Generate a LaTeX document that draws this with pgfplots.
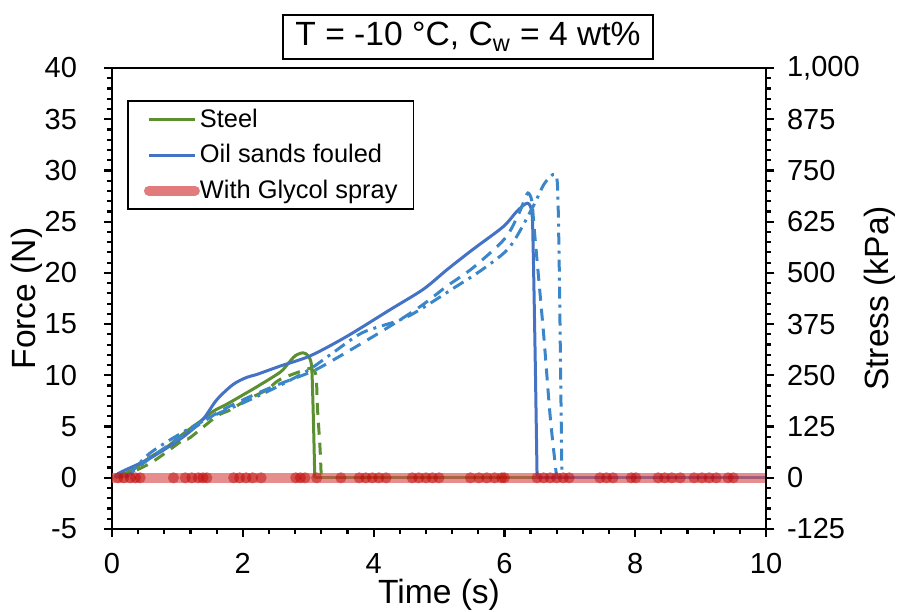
\documentclass[border=0pt]{standalone}
\usepackage{fontspec}
\setmainfont{Liberation Sans}
\usepackage{pgfplots}
\pgfplotsset{compat=1.18}

\definecolor{steelgreen}{HTML}{5B8F2F}
\definecolor{oilblue}{HTML}{4472C4}
\definecolor{oillight}{HTML}{3A86C8}
\definecolor{glycol}{HTML}{D85050}
\definecolor{glycoldot}{HTML}{C00000}

\begin{document}
\begin{tikzpicture}
\pgfplotsset{
  common/.style={
    scale only axis, width=327pt, height=230.5pt,
    xmin=0, xmax=10,
    tick align=outside,
    major tick length=4pt, minor tick length=2.5pt,
    tick style={black, line width=1.1pt},
    axis line style={line width=1.3pt},
    tick label style={font=\fontsize{14.5}{16}\selectfont},
    /pgf/number format/assume math mode=true,
  },
}
\begin{axis}[common,
    ymin=-5, ymax=40,
    xtick={0,2,...,10}, ytick={-5,0,...,40},
    minor x tick num=4, minor y tick num=4,
    xtick pos=bottom, ytick pos=left,
    yticklabel style={xshift=-10pt},
    xticklabel style={yshift=-4.5pt},
    xlabel={Time (s)}, ylabel={Force (N)},
    every axis x label/.style={at={(axis description cs:0.5,-0.143)}, anchor=center,
      font=\fontsize{16.8}{19}\selectfont},
    every axis y label/.style={at={(axis description cs:-0.13,0.5)}, rotate=90, anchor=center,
      font=\fontsize{16.8}{19}\selectfont},
    legend style={at={(rel axis cs:0.023,0.93)}, anchor=north west,
      draw=black, line width=0.9pt, inner xsep=8pt, inner ysep=1.5pt,
      font=\fontsize{12.7}{15}\selectfont, row sep=2pt,
      nodes={inner xsep=0pt, inner ysep=2.5pt}},
    legend cell align=left,
    legend image code/.code={\draw[#1] (0pt,0pt) -- (23pt,0pt);},
]
\addlegendimage{steelgreen, line width=1.5pt}
\addlegendentry{Steel}
\addlegendimage{oilblue, line width=1.5pt}
\addlegendentry{Oil sands fouled}
\addlegendimage{glycol!75!white, line width=5pt, line cap=round}
\addlegendentry{With Glycol spray}

% steel, run 1
\addplot[steelgreen, line width=1.5pt, smooth, forget plot] coordinates {
(0.05,0) (0.32,0.8) (0.58,2.0) (0.84,3.0) (1.09,4.3) (1.39,5.7) (1.55,6.5)
(1.76,7.2) (2.06,8.3) (2.22,8.9) (2.57,10.3) (2.70,11.2) (2.80,11.9)
(2.92,12.2) (3.00,11.9) (3.05,11.0) (3.07,7.9) (3.09,3.0) (3.10,0)
};
\addplot[steelgreen, line width=1.5pt, forget plot] coordinates {(3.10,0) (6.5,0)};
% steel, run 2
\addplot[steelgreen, line width=1.5pt, dash pattern=on 6pt off 4pt, smooth, forget plot] coordinates {
(0.10,0) (0.58,1.4) (1.09,3.7) (1.19,3.9) (1.60,6.0) (1.80,6.6) (2.06,7.6)
(2.37,8.6) (2.57,9.6) (2.98,10.6) (3.05,10.6) (3.12,10.0) (3.14,7.0)
(3.18,3.0) (3.20,0)
};
% oil sands fouled, run 1
\addplot[oilblue, line width=1.5pt, smooth, forget plot] coordinates {
(0.05,0) (0.12,0.5) (0.58,1.9) (1.09,4.0) (1.39,5.7) (1.60,7.6) (1.85,9.1)
(2.06,9.8) (2.22,10.1) (2.57,10.9) (3.03,11.9) (3.59,13.8) (4.25,16.4)
(4.76,18.4) (5.12,20.3) (5.52,22.3) (5.98,24.5) (6.19,26.0) (6.35,26.8)
(6.42,25.9) (6.44,22.3) (6.47,12.0) (6.50,0)
};
\addplot[oilblue, line width=1.5pt, forget plot] coordinates {(6.5,0) (10,0)};
% oil sands fouled, run 2
\addplot[oillight, line width=1.5pt, dash pattern=on 6pt off 4pt, smooth, forget plot] coordinates {
(0.20,0) (0.60,2.0) (1.10,4.2) (1.60,6.3) (2.00,7.6) (2.50,9.0) (3.03,10.3)
(3.33,11.3) (4.10,14.2) (4.71,16.7) (5.12,18.7) (5.52,20.5) (6.00,23.3)
(6.20,25.5) (6.30,27.0) (6.36,27.8) (6.42,27.0) (6.46,24.0) (6.60,14.0)
(6.70,6.0) (6.80,0)
};
% oil sands fouled, run 3
\addplot[oillight, line width=1.5pt, dash pattern=on 6pt off 3pt on 1.5pt off 3pt, smooth, forget plot] coordinates {
(0.25,0.2) (0.58,2.4) (1.15,4.7) (1.60,6.2) (2.00,7.3) (2.50,8.8) (3.00,10.5)
(3.40,12.3) (3.84,14.2) (4.51,15.7) (5.27,18.7) (5.70,20.5) (6.09,22.6)
(6.44,26.5) (6.60,28.6) (6.74,29.6) (6.80,29.3) (6.82,27.0) (6.84,20.0)
(6.86,10.0) (6.88,0)
};
% with glycol spray
\addplot[glycol, line width=5pt, opacity=0.65, forget plot] coordinates {(0,0) (10,0)};
\addplot[only marks, mark=*, mark size=2.8pt, glycoldot, draw opacity=0, fill opacity=0.45, forget plot] coordinates {
(0.09,0) (0.18,0) (0.28,0) (0.36,0) (0.43,0) (0.94,0) (1.12,0) (1.22,0) (1.32,0)
(1.39,0) (1.45,0) (1.86,0) (1.95,0) (2.05,0) (2.15,0) (2.28,0) (2.81,0) (2.88,0)
(2.95,0) (3.13,0) (3.50,0) (3.78,0) (3.88,0) (3.98,0) (4.08,0) (4.19,0) (4.59,0)
(4.69,0) (4.80,0) (4.90,0) (5.00,0) (5.48,0) (5.61,0) (5.73,0) (5.85,0) (5.96,0)
(6.00,0) (6.50,0) (6.60,0) (6.70,0) (6.80,0) (6.90,0) (6.99,0) (7.46,0) (7.56,0)
(7.66,0) (7.94,0) (8.01,0) (8.35,0) (8.45,0) (8.56,0) (8.69,0) (8.90,0) (9.02,0)
(9.13,0) (9.24,0) (9.42,0) (9.50,0)
};
\end{axis}

\begin{axis}[common,
    ymin=-125, ymax=1000,
    ytick={-125,0,...,1000}, minor y tick num=4,
    axis x line=none, axis y line*=right,
    yticklabel style={xshift=3pt},
    ylabel={Stress (kPa)},
    every axis y label/.style={at={(axis description cs:1.174,0.5)}, rotate=90, anchor=center,
      font=\fontsize{16.8}{19}\selectfont},
]
\addplot[draw=none] coordinates {(0,0)};
\end{axis}

\node[draw, line width=1pt, inner xsep=6pt, inner ysep=3pt, anchor=south,
  font=\fontsize{16.8}{19}\selectfont, text height=12.5pt, text depth=3.5pt]
  at (178pt,234.5pt) {T = -10 °C, C\textsubscript{w} = 4 wt\%};
\pgfresetboundingbox
\useasboundingbox (-56pt,-41pt) rectangle (393.5pt,264.5pt);
\end{tikzpicture}
\end{document}
